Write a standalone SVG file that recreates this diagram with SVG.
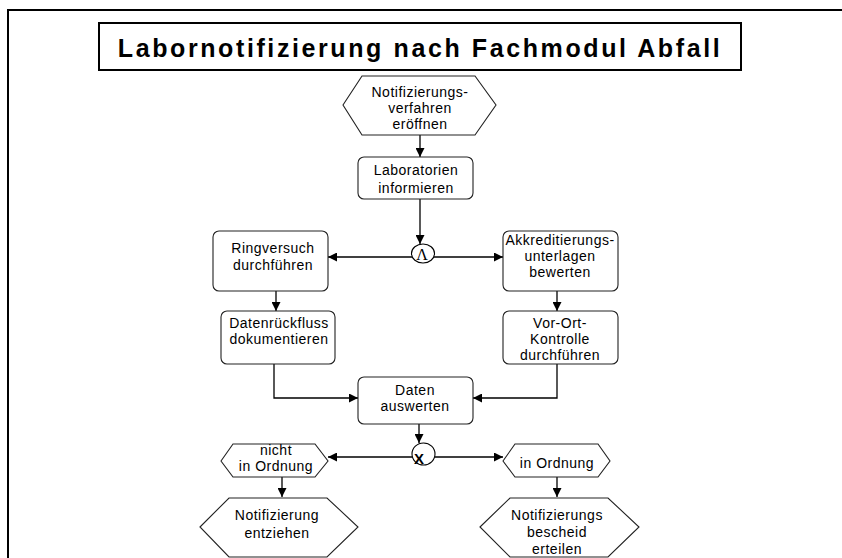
<svg xmlns="http://www.w3.org/2000/svg" width="842" height="558" viewBox="0 0 842 558">
<style>
.box{fill:#fff;stroke:#222;stroke-width:1.1}
.hex{fill:#fff;stroke:#222;stroke-width:1.1}
.t{font-family:"Liberation Sans",Arial,sans-serif;font-size:14px;letter-spacing:0.5px;text-anchor:middle;fill:#000}
.c{fill:none;stroke:#000;stroke-width:1.3}
</style>
<defs>
<marker id="ah" viewBox="0 0 10 10" refX="10" refY="5" markerWidth="9" markerHeight="9" markerUnits="userSpaceOnUse" orient="auto">
<path d="M0,0 L10,5 L0,10 Z" fill="#000"/>
</marker>
</defs>
<rect x="0" y="0" width="842" height="558" fill="#fff"/>
<rect x="8" y="10" width="850" height="560" fill="none" stroke="#000" stroke-width="2"/>
<g id="title">
<rect x="99" y="23" width="642" height="47" fill="#fff" stroke="#000" stroke-width="2"/>
<text x="420" y="57" font-family="Liberation Sans,Arial,sans-serif" font-size="25" font-weight="bold" letter-spacing="2.6" text-anchor="middle">Labornotifizierung nach Fachmodul Abfall</text>
</g>
<g id="connectors">
<path class="c" d="M420,135 V157" marker-end="url(#ah)"/>
<path class="c" d="M420,199 V244" marker-end="url(#ah)"/>
<path class="c" d="M412,257 H328" marker-end="url(#ah)"/>
<path class="c" d="M434,257 H503" marker-end="url(#ah)"/>
<path class="c" d="M276,291 V311" marker-end="url(#ah)"/>
<path class="c" d="M557,291 V311" marker-end="url(#ah)"/>
<path class="c" d="M274,364 V398 H358" marker-end="url(#ah)"/>
<path class="c" d="M557,364 V398 H473" marker-end="url(#ah)"/>
<path class="c" d="M419,424 V443" marker-end="url(#ah)"/>
<path class="c" d="M412,457 H328" marker-end="url(#ah)"/>
<path class="c" d="M435,457 H503" marker-end="url(#ah)"/>
<path class="c" d="M282,477 V497" marker-end="url(#ah)"/>
<path class="c" d="M557,477 V497" marker-end="url(#ah)"/>
</g>
<g id="start">
<polygon class="hex" points="343,105 362,76 475,76 496,105 475,135 362,135"/>
<text class="t" x="420" y="97">Notifizierungs-</text>
<text class="t" x="420" y="113">verfahren</text>
<text class="t" x="420" y="129">eröffnen</text>
</g>
<g id="informieren">
<rect class="box" x="358" y="157" width="115" height="42" rx="6"/>
<text class="t" x="416" y="175">Laboratorien</text>
<text class="t" x="416" y="193">informieren</text>
</g>
<g id="and">
<ellipse cx="423" cy="253.5" rx="11.5" ry="9.5" fill="#fff" stroke="#000" stroke-width="1.1"/>
<text x="422" y="260" font-family="Liberation Serif,serif" font-size="16" text-anchor="middle">Λ</text>
</g>
<g id="ringversuch">
<rect class="box" x="213" y="231" width="115" height="60" rx="6"/>
<text class="t" x="273" y="253">Ringversuch</text>
<text class="t" x="273" y="270">durchführen</text>
</g>
<g id="akkreditierung">
<rect class="box" x="503" y="231" width="115" height="60" rx="6"/>
<text class="t" x="560" y="245">Akkreditierungs-</text>
<text class="t" x="560" y="261">unterlagen</text>
<text class="t" x="560" y="277">bewerten</text>
</g>
<g id="datenrueckfluss">
<rect class="box" x="221" y="311" width="114" height="53" rx="6"/>
<text class="t" x="279" y="328">Datenrückfluss</text>
<text class="t" x="279" y="344">dokumentieren</text>
</g>
<g id="vorort">
<rect class="box" x="503" y="311" width="115" height="53" rx="6"/>
<text class="t" x="560" y="328">Vor-Ort-</text>
<text class="t" x="560" y="344">Kontrolle</text>
<text class="t" x="560" y="360">durchführen</text>
</g>
<g id="auswerten">
<rect class="box" x="358" y="377" width="115" height="47" rx="6"/>
<text class="t" x="415" y="395">Daten</text>
<text class="t" x="415" y="411">auswerten</text>
</g>
<g id="xor">
<ellipse cx="423.5" cy="454" rx="11.5" ry="11" fill="#fff" stroke="#000" stroke-width="1.1"/>
<text x="419" y="464" font-family="Liberation Sans,Arial,sans-serif" font-size="15" font-weight="bold" text-anchor="middle">X</text>
</g>
<g id="nichtordnung">
<polygon class="hex" points="221,461 233,444 315,444 328,461 315,477 233,477"/>
<text class="t" x="276" y="455">nicht</text>
<text class="t" x="276" y="471">in Ordnung</text>
</g>
<g id="inordnung">
<polygon class="hex" points="503,461 515,444 598,444 610,461 598,477 515,477"/>
<text class="t" x="557" y="468">in Ordnung</text>
</g>
<g id="entziehen">
<polygon class="hex" points="200,527 229,498 327,498 358,527 327,557 229,557"/>
<text class="t" x="277" y="520">Notifizierung</text>
<text class="t" x="277" y="538">entziehen</text>
</g>
<g id="bescheid">
<polygon class="hex" points="480,527 510,498 608,498 639,527 608,557 510,557"/>
<text class="t" x="557" y="520">Notifizierungs</text>
<text class="t" x="557" y="537">bescheid</text>
<text class="t" x="557" y="554">erteilen</text>
</g>
</svg>
